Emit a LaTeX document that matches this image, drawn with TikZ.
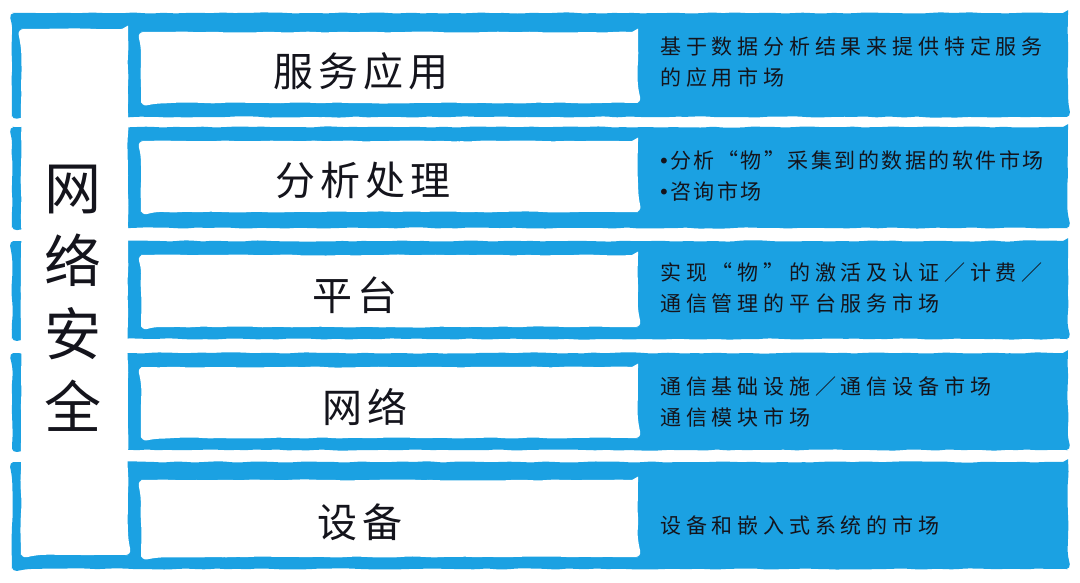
\documentclass[tikz,border=0pt]{standalone}
\usepackage{fontspec}
\usetikzlibrary{decorations.pathmorphing}
\newfontfamily\cjk{Noto Sans CJK SC}
\newfontfamily\dejavu{DejaVu Sans}
\newfontfamily\cjklab[LetterSpace=12]{Noto Sans CJK SC}
\newfontfamily\cjktxt[LetterSpace=23]{Noto Sans CJK SC}
\newfontfamily\cjktight[LetterSpace=12]{Noto Sans CJK SC}
\definecolor{bandblue}{RGB}{27,161,226}
\definecolor{ink}{RGB}{20,20,28}
\begin{document}
\begin{tikzpicture}[x=1pt,y=-1pt,
  band/.style={fill=bandblue, inner sep=0pt, outer sep=0pt, rounded corners=5pt,
    decorate, decoration={random steps, segment length=10pt, amplitude=0.7pt}},
  whitebox/.style={fill=white, inner sep=0pt, outer sep=0pt, rounded corners=6pt,
    decorate, decoration={random steps, segment length=10pt, amplitude=0.6pt}},
  labelbox/.style={whitebox, minimum width=497pt},
  labeltext/.style={inner sep=0pt, text=ink, font=\cjklab\fontsize{40}{42}\selectfont},
  desc/.style={anchor=west, inner sep=0pt, align=left, text=ink,
    font=\cjktxt\fontsize{21}{31}\selectfont},
  sidetext/.style={inner sep=0pt, align=center, text=ink,
    font=\cjk\fontsize{57}{73}\selectfont}
]
\useasboundingbox (0,0) rectangle (1080,583);
\fill[white] (0,0) rectangle (1080,583);

% bands
\node[band, minimum width=1056pt, minimum height=104pt] (b1) at (540,65) {};
\node[band, minimum width=1056pt, minimum height=101pt] (b2) at (540,177.5) {};
\node[band, minimum width=1056pt, minimum height=98pt] (b3) at (540,290) {};
\node[band, minimum width=1056pt, minimum height=97pt] (b4) at (540,401.5) {};
\node[band, minimum width=1056pt, minimum height=107pt] (b5) at (540,515.5) {};

% left box
\node[whitebox, minimum width=107pt, minimum height=526pt] (side) at (74.5,292) {};
\node[sidetext] (sidelabel) at (73,298) {网\\络\\安\\全};

% label boxes
\node[labelbox, minimum height=71pt] (l1) at (389.5,67.5) {};
\node[labelbox, minimum height=71pt] (l2) at (389.5,176.5) {};
\node[labelbox, minimum height=72pt] (l3) at (389.5,291) {};
\node[labelbox, minimum height=71pt] (l4) at (389.5,402.5) {};
\node[labelbox, minimum height=77pt] (l5) at (389.5,518.5) {};

\node[labeltext] (t1) at (361,71) {服务应用};
\node[labeltext] (t2) at (363,180) {分析处理};
\node[labeltext] (t3) at (355,295) {平台};
\node[labeltext] (t4) at (365,407) {网络};
\node[labeltext] (t5) at (360,522) {设备};

% descriptions
\node[desc] (d1) at (660,62.5) {基于数据分析结果来提供特定服务\\的应用市场};
\node[desc, font=\cjktight\fontsize{21}{31}\selectfont] (d2) at (658,176)
  {{\dejavu\fontsize{20}{31}\selectfont •}分析“物”采集到的数据的软件市场\\{\dejavu\fontsize{20}{31}\selectfont •}咨询市场};
\node[desc] (d3) at (660,287.5) {实现“物”的激活及认证／计费／\\通信管理的平台服务市场};
\node[desc] (d4) at (660,401.5) {通信基础设施／通信设备市场\\通信模块市场};
\node[desc] (d5) at (660,525) {设备和嵌入式系统的市场};
\end{tikzpicture}
\end{document}
